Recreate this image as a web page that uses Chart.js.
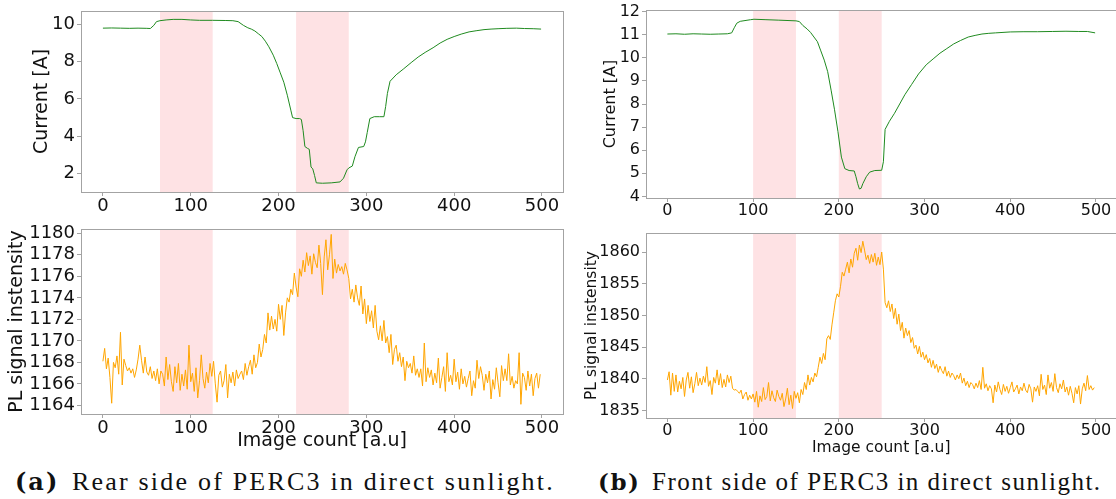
<!DOCTYPE html>
<html lang="en">
<head>
    <meta charset="UTF-8">
    <title>PERC3 current and PL signal</title>
    <script src="https://cdn.jsdelivr.net/npm/chart.js"></script>
    <style>
        body {
            margin: 0;
            background: #fff;
        }
        #wrap {
            position: relative;
            width: 1116px;
            height: 499px;
            overflow: hidden;
            background: #fff;
        }
        canvas {
            position: absolute;
        }
        .caption {
            position: absolute;
            top: 467px;
            font-family: 'Liberation Serif', serif;
            color: #111;
            white-space: nowrap;
        }
        .caption b {
            font-family: 'DejaVu Serif', serif;
            margin-right: 4px;
        }
        #capA { left: 15px; font-size: 26px; letter-spacing: 2.2px; }
        #capA b { font-size: 24px; letter-spacing: 2px; }
        #capB { left: 598px; top: 468px; font-size: 25px; letter-spacing: 1.5px; }
        #capB b { font-size: 23px; letter-spacing: 1.5px; }
    </style>
</head>
<body>
<div id="wrap">
    <canvas id="curA" width="570" height="215" style="left:0;top:0"></canvas>
    <canvas id="plA" width="570" height="237" style="left:0;top:215px"></canvas>
    <canvas id="curB" width="560" height="220" style="left:570px;top:0"></canvas>
    <canvas id="plB" width="560" height="237" style="left:570px;top:220px"></canvas>
    <div class="caption" id="capA"><b>(a)</b> Rear side of PERC3 in direct sunlight.</div>
    <div class="caption" id="capB"><b>(b)</b> Front side of PERC3 in direct sunlight.</div>
</div>

<script>
    // x axis (image count), shared by all four panels
    const xTicks = [0, 100, 200, 300, 400, 500];
    const xRange = [-24.95, 523.95];
    const plStep = 2; // PL series sampled every 2nd image

    // (a) rear side - current
    const curAx = [0,10,20,30,40,50,54,58,61,65, 72,80,90,100,110,125,140,148,154,160,
        165,169,173,177,181,185,189,194,198,202, 206,210,214,216,220,224,226,228,230,233,
        235,237,239,241,243,250,260,270,274,278, 280,284,287,291,297,299,301,304,309,315,
        320,322,324,327,334,342,351,359,367,376, 384,392,400,408,417,425,434,442,450,460,
        471,480,490,499];
    const curAy = [9.8,9.81,9.8,9.79,9.8,9.79,9.78,9.95,10.15,10.2, 10.24,10.27,10.27,10.24,10.22,10.22,10.21,10.2,10.15,9.95,
        9.82,9.75,9.65,9.5,9.35,9.1,8.8,8.35,7.9,7.4, 6.9,6.2,5.4,5.0,4.95,4.95,4.9,4.3,3.45,3.35,
        3.3,2.35,2.25,1.9,1.5,1.48,1.5,1.55,1.75,2.2, 2.3,2.4,2.9,3.4,3.45,3.7,4.2,4.95,5.05,5.05,
        5.05,5.6,6.3,6.95,7.3,7.6,7.95,8.25,8.5,8.75, 9.0,9.2,9.35,9.48,9.6,9.66,9.72,9.75,9.77,9.79,
        9.8,9.78,9.77,9.75];
    const curAyTicks = [2, 4, 6, 8, 10];
    const curAyRange = [1.01, 10.72];
    const bandsA = [[65, 125], [220, 280]];

    // (a) rear side - PL signal
    const plA = [
        1168.1,1169.3,1167.4,1168.4,1166.6,1164.2,1168.0,1167.5,1168.6,1166.9,
        1170.8,1165.9,1168.3,1167.7,1167.2,1167.5,1167.0,1167.4,1166.6,1167.3,
        1168.3,1169.6,1168.2,1167.0,1168.5,1167.1,1166.8,1167.6,1166.5,1167.2,
        1166.3,1167.4,1166.0,1167.2,1166.9,1165.8,1168.5,1166.4,1167.8,1166.2,
        1165.3,1167.6,1166.1,1167.9,1165.4,1166.9,1165.8,1167.3,1165.5,1169.6,
        1166.2,1167.0,1165.3,1167.5,1164.7,1166.3,1168.7,1166.5,1165.6,1167.1,
        1166.1,1167.9,1166.7,1168.1,1166.0,1164.3,1166.8,1167.2,1165.7,1166.3,
        1167.8,1164.7,1166.9,1166.1,1167.1,1165.8,1167.3,1166.5,1166.9,1167.2,
        1166.4,1167.9,1166.8,1167.6,1168.2,1166.9,1168.7,1167.5,1168.0,1169.7,
        1168.5,1169.2,1170.6,1169.8,1172.6,1171.0,1172.3,1171.1,1172.0,1170.9,
        1173.4,1172.0,1173.3,1170.5,1172.6,1174.0,1173.6,1174.8,1174.3,1176.3,
        1175.0,1174.1,1176.7,1176.0,1177.5,1176.4,1178.2,1177.0,1177.9,1176.2,
        1178.1,1177.3,1176.8,1178.9,1177.2,1174.3,1177.8,1179.4,1176.6,1178.0,
        1179.9,1175.8,1177.6,1176.3,1177.1,1176.5,1176.9,1176.2,1177.2,1176.6,
        1175.8,1173.9,1174.8,1173.6,1175.2,1174.0,1173.3,1175.1,1172.5,1173.9,
        1171.6,1173.3,1171.8,1172.8,1171.2,1173.3,1170.9,1170.1,1171.4,1170.0,
        1171.9,1169.8,1170.4,1168.9,1170.6,1167.8,1169.2,1169.6,1168.1,1168.9,
        1167.6,1168.5,1166.3,1168.1,1167.5,1167.9,1167.0,1168.6,1166.8,1167.4,
        1166.6,1167.4,1165.8,1169.8,1166.2,1167.5,1166.6,1167.3,1165.9,1167.0,
        1166.1,1168.4,1165.6,1166.6,1167.6,1165.3,1168.9,1166.2,1166.8,1165.9,
        1168.3,1166.2,1167.1,1165.5,1167.4,1166.0,1166.7,1165.7,1166.5,1167.2,
        1164.9,1166.3,1165.6,1168.2,1166.5,1167.6,1166.8,1165.4,1166.9,1166.1,
        1167.2,1164.6,1166.4,1165.5,1167.5,1166.1,1164.8,1167.7,1166.3,1167.4,
        1166.3,1168.8,1165.9,1166.7,1165.6,1166.3,1166.0,1168.9,1164.1,1167.0,
        1166.6,1165.4,1167.2,1165.8,1166.9,1164.9,1166.5,1167.0,1165.6,1166.9];
    const plAyTicks = [1164, 1166, 1168, 1170, 1172, 1174, 1176, 1178, 1180];
    const plAyRange = [1163.2, 1180.4];

    // (b) front side - current
    const curBx = [0,10,20,30,40,50,60,70,75,78, 81,85,97,101,115,130,150,154,158,163,
        167,171,175,179,183,187,191,195,199,203, 207,212,218,220,222,224,226,228,232,236,
        242,250,252,254,259,265,271,277,285,293, 302,310,318,326,334,342,351,359,367,375,
        383,400,416,432,449,465,480,490,499];
    const curBy = [11.03,11.04,11.02,11.04,11.03,11.02,11.03,11.04,11.08,11.3, 11.5,11.58,11.65,11.67,11.65,11.63,11.6,11.57,11.4,11.25,
        11.1,10.9,10.7,10.3,9.9,9.4,8.6,7.75,6.8,5.7, 5.2,5.12,5.1,4.85,4.55,4.32,4.35,4.55,4.85,5.05,
        5.12,5.13,5.5,6.9,7.25,7.6,8.0,8.4,8.85,9.3, 9.7,9.95,10.2,10.4,10.6,10.75,10.9,10.97,11.03,11.06,
        11.08,11.12,11.13,11.13,11.14,11.15,11.14,11.14,11.08];
    const curByTicks = [4, 5, 6, 7, 8, 9, 10, 11, 12];
    const curByRange = [3.93, 12.07];
    const bandsB = [[100, 150], [200, 250]];

    // (b) front side - PL signal
    const plB = [
        1839.8,1841.1,1837.4,1840.9,1838.0,1840.6,1837.9,1839.6,1838.4,1840.2,
        1837.2,1839.8,1841.0,1838.5,1840.3,1837.8,1839.2,1841.0,1838.9,1840.1,
        1839.0,1840.4,1839.4,1841.9,1838.8,1839.7,1837.5,1840.2,1839.3,1841.4,
        1839.0,1840.8,1838.6,1839.9,1838.7,1840.6,1839.4,1840.4,1838.5,1838.2,
        1838.3,1838.0,1837.7,1838.2,1836.8,1837.5,1837.9,1836.6,1837.4,1836.8,
        1837.6,1836.3,1838.0,1835.5,1837.3,1836.4,1838.6,1836.7,1837.2,1839.4,
        1836.5,1838.1,1837.0,1836.4,1838.2,1837.2,1836.6,1837.7,1835.6,1836.8,
        1838.5,1835.9,1837.4,1835.3,1838.0,1836.9,1837.8,1836.2,1838.3,1837.5,
        1839.4,1838.3,1840.6,1839.0,1840.2,1839.5,1840.9,1840.3,1841.8,1843.4,
        1842.4,1844.0,1843.0,1846.3,1846.8,1846.2,1848.5,1850.4,1852.3,1853.4,
        1852.9,1854.6,1856.8,1856.2,1857.3,1858.4,1856.7,1858.9,1857.6,1859.8,
        1860.6,1858.7,1861.1,1859.9,1861.7,1860.3,1858.8,1859.5,1858.2,1859.6,
        1858.4,1859.8,1857.9,1859.2,1858.0,1860.0,1857.3,1852.0,1851.2,1852.3,
        1850.6,1851.8,1849.5,1851.1,1848.6,1850.2,1847.6,1848.9,1846.4,1848.0,
        1846.8,1847.6,1845.7,1846.5,1844.8,1845.3,1843.9,1845.1,1843.4,1844.2,
        1843.0,1843.8,1842.5,1843.2,1841.8,1842.9,1841.6,1842.3,1841.0,1842.0,
        1841.3,1840.8,1841.9,1840.4,1841.2,1840.2,1840.9,1840.5,1839.8,1840.6,
        1840.0,1840.9,1839.3,1840.1,1838.9,1839.6,1838.6,1839.4,1839.1,1838.4,
        1839.3,1838.6,1839.7,1838.3,1841.8,1838.5,1839.2,1838.1,1838.9,1838.4,
        1836.2,1839.0,1837.9,1839.5,1838.3,1837.5,1839.1,1838.0,1838.8,1837.7,
        1838.6,1839.5,1837.9,1838.4,1839.0,1837.6,1838.7,1838.1,1839.3,1838.2,
        1837.8,1839.1,1838.4,1836.3,1838.7,1838.0,1838.9,1837.3,1840.7,1838.3,
        1839.0,1837.5,1840.6,1838.5,1839.4,1838.0,1840.8,1838.6,1837.8,1839.2,
        1838.4,1839.8,1837.9,1838.7,1837.4,1838.8,1837.7,1836.2,1838.6,1837.6,
        1838.9,1836.0,1838.4,1839.3,1838.1,1840.5,1838.3,1838.9,1838.2,1838.6];
    const plByTicks = [1835, 1840, 1845, 1850, 1855, 1860];
    const plByRange = [1833.8, 1863.0];

    const family = 'DejaVu Sans';
    const ink = '#111';
    const spine = '#a3a3a3';

    // shaded spans and the full axes box
    const frame = {
        id: 'frame',
        beforeDatasetsDraw(chart, args, opts) {
            const { ctx, chartArea: a, scales: { x } } = chart;
            ctx.save();
            ctx.fillStyle = 'rgba(250, 30, 50, 0.13)';
            opts.bands.forEach(([s, e]) => {
                const x0 = x.getPixelForValue(s), x1 = x.getPixelForValue(e);
                ctx.fillRect(x0, a.top, x1 - x0, a.bottom - a.top);
            });
            ctx.restore();
        },
        afterDraw(chart) {
            const { ctx, chartArea: a } = chart;
            ctx.save();
            ctx.strokeStyle = spine;
            ctx.lineWidth = 1;
            ctx.strokeRect(Math.round(a.left) + 0.5, Math.round(a.top) + 0.5,
                Math.round(a.right - a.left), Math.round(a.bottom - a.top));
            ctx.restore();
        }
    };

    function panel(c) {
        const pts = c.xs.map((x, i) => ({ x, y: c.ys[i] }));
        return new Chart(document.getElementById(c.id), {
            type: 'line',
            data: {
                datasets: [{
                    data: pts,
                    borderColor: c.color,
                    borderWidth: 1,
                    pointRadius: 0,
                    tension: 0
                }]
            },
            options: {
                responsive: false,
                animation: false,
                devicePixelRatio: 1,
                layout: { padding: c.pad },
                plugins: {
                    legend: { display: false },
                    tooltip: { enabled: false },
                    frame: { bands: c.bands }
                },
                scales: {
                    x: {
                        type: 'linear',
                        min: xRange[0],
                        max: xRange[1],
                        afterBuildTicks: s => { s.ticks = xTicks.map(v => ({ value: v })); },
                        afterFit: s => { s.height = c.xh; },
                        grid: { drawOnChartArea: false, tickLength: 4, tickColor: spine },
                        border: { display: false },
                        ticks: {
                            color: ink, padding: c.xpad, maxRotation: 0, autoSkip: false,
                            font: { family, size: c.tick, lineHeight: 1 },
                            callback: v => String(v)
                        },
                        title: {
                            display: !!c.xTitle,
                            text: c.xTitle,
                            color: ink,
                            padding: 0,
                            font: { family, size: c.title, lineHeight: 1.2 }
                        }
                    },
                    y: {
                        min: c.yRange[0],
                        max: c.yRange[1],
                        afterBuildTicks: s => { s.ticks = c.yTicks.map(v => ({ value: v })); },
                        afterFit: s => { s.width = c.yw; },
                        grid: { drawOnChartArea: false, tickLength: 4, tickColor: spine },
                        border: { display: false },
                        ticks: {
                            color: ink, padding: 2, autoSkip: false,
                            font: { family, size: c.tick, lineHeight: 1 },
                            callback: v => String(v)
                        },
                        title: {
                            display: true,
                            text: c.yTitle,
                            color: ink,
                            padding: { top: c.yTitlePad, bottom: 0 },
                            font: { family, size: c.title, lineHeight: 1.2 }
                        }
                    }
                }
            },
            plugins: [frame]
        });
    }

    const plX = plA.map((_, i) => i * plStep);

    panel({ id: 'curA', xs: curAx, ys: curAy, color: '#1f8a1f', bands: bandsA,
        yTicks: curAyTicks, yRange: curAyRange, yTitle: 'Current [A]',
        pad: { top: 7, right: 7, left: 0, bottom: 0 }, yw: 81, xh: 23, xpad: 1,
        tick: 18, title: 19, yTitlePad: 31 });

    panel({ id: 'plA', xs: plX, ys: plA, color: 'orange', bands: bandsA,
        yTicks: plAyTicks, yRange: plAyRange, yTitle: 'PL signal instensity',
        xTitle: 'Image count [a.u]',
        pad: { top: 14, right: 7, left: 0, bottom: 0 }, yw: 81, xh: 38, xpad: 1,
        tick: 18, title: 19, yTitlePad: 6 });

    panel({ id: 'curB', xs: curBx, ys: curBy, color: '#1f8a1f', bands: bandsB,
        yTicks: curByTicks, yRange: curByRange, yTitle: 'Current [A]',
        pad: { top: 10, right: 13.5, left: 0, bottom: 0 }, yw: 76, xh: 22, xpad: 1,
        tick: 16, title: 16, yTitlePad: 31 });

    panel({ id: 'plB', xs: plX, ys: plB, color: 'orange', bands: bandsB,
        yTicks: plByTicks, yRange: plByRange, yTitle: 'PL signal instensity',
        xTitle: 'Image count [a.u]',
        pad: { top: 13, right: 13.5, left: 0, bottom: 0 }, yw: 76, xh: 39, xpad: 1,
        tick: 16, title: 15.5, yTitlePad: 13 });
</script>
</body>
</html>
